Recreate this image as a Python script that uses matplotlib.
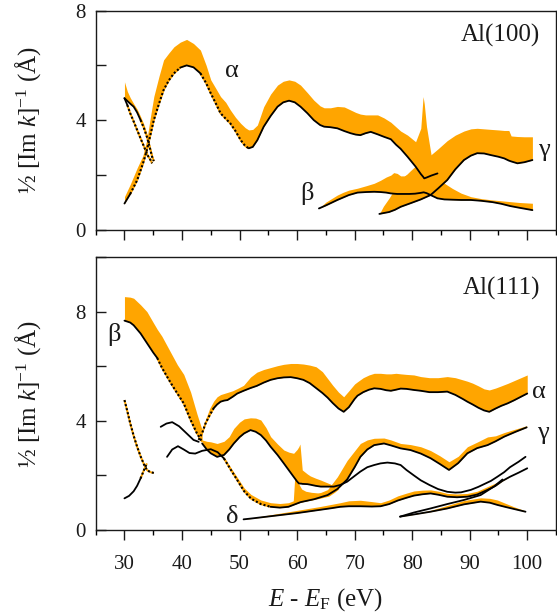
import numpy as np
import matplotlib
matplotlib.use("Agg")
import matplotlib.pyplot as plt
from matplotlib.ticker import MultipleLocator

plt.rcParams['font.family'] = ['Liberation Serif', 'DejaVu Serif']
plt.rcParams['mathtext.fontset'] = 'custom'
plt.rcParams['mathtext.rm'] = 'Liberation Serif'
plt.rcParams['mathtext.it'] = 'Liberation Serif:italic'

ORANGE = '#FFA500'
TXT = '#1a1a1a'

# ---------------- Al(100) ----------------
a100_x = [30, 31, 32.2, 33.2, 33.9, 34.5, 35.1, 36, 36.8, 37.7, 38.6, 39.7, 40.8, 42, 43.2, 44.2, 45, 45.9,
          46.7, 47.6, 48.4, 49.3, 50.2, 51, 51.6, 52.3, 53.1, 54.2, 55.4, 56.6, 57.6, 58.6, 59.6, 60.6, 61.8,
          62.9, 64, 64.7, 65.8, 67, 68.2, 69.3, 70.2, 71, 71.9, 72.8, 74, 75.1, 76.3, 77.2, 78, 79.2, 80.6,
          81.5, 81.9, 82.1, 82.5, 83.3, 84.4]
a100_lo = [0.95, 1.3, 1.8, 2.4, 2.9, 3.45, 4.0, 4.6, 5.1, 5.45, 5.71, 5.92, 6.0, 5.93, 5.71, 5.35, 4.98, 4.6,
           4.25, 4.05, 3.88, 3.6, 3.27, 3.05, 2.97, 3.02, 3.27, 3.76, 4.15, 4.49, 4.65, 4.71, 4.65, 4.49, 4.25,
           4.0, 3.82, 3.76, 3.74, 3.7, 3.6, 3.52, 3.47, 3.45, 3.52, 3.57, 3.48, 3.39, 3.3, 3.1, 2.95, 2.66, 2.3,
           2.03, 1.93, 1.87, 1.9, 1.97, 2.05]
a100_hi = [1.2, 1.65, 2.25, 2.7, 3.3, 4.1, 4.86, 5.6, 6.2, 6.45, 6.68, 6.85, 6.95, 6.8, 6.56, 6.0, 5.47, 5.15,
           4.86, 4.65, 4.37, 4.1, 3.88, 3.72, 3.64, 3.66, 3.82, 4.49, 4.95, 5.28, 5.42, 5.47, 5.42, 5.28, 5.0,
           4.73, 4.52, 4.45, 4.45, 4.5, 4.48, 4.37, 4.28, 4.22, 4.19, 4.19, 4.19, 4.08, 3.92, 3.75, 3.6, 3.45,
           3.21, 3.7, 4.86, 4.6, 3.76, 2.72, 2.6]

cb100_x = [30, 30.5, 31, 31.6, 32.2, 32.8, 33.4, 33.9, 34.4, 34.8, 35.1]
cb100_lo = [4.8, 4.7, 4.6, 4.49, 4.28, 4.0, 3.7, 3.39, 3.0, 2.66, 2.5]
cb100_hi = [5.4, 5.05, 4.82, 4.6, 4.4, 4.13, 3.83, 3.5, 3.1, 2.78, 2.55]

ca100_x = [30, 30.5, 31, 31.6, 32.2, 32.8, 33.4, 34, 34.5, 34.8]
ca100_y = [4.8, 4.55, 4.25, 3.95, 3.64, 3.33, 3.03, 2.72, 2.55, 2.42]

b100_x = [63.8, 65, 66, 67, 68, 69, 70.5, 72, 73.4, 74.5, 75.5, 76.3, 76.8, 77.4, 78, 78.6, 79.5, 80.5,
          81.5, 82, 82.5, 83.3, 84.4, 85.6, 87, 88.5, 90.2, 92, 94, 95.5, 97, 98.5, 100.9]
b100_lo = [0.77, 0.88, 0.98, 1.08, 1.17, 1.26, 1.35, 1.37, 1.38, 1.37, 1.35, 1.32, 1.31, 1.3, 1.3, 1.3, 1.3,
           1.31, 1.34, 1.36, 1.33, 1.25, 1.14, 1.1, 1.09, 1.08, 1.08, 1.05, 1.0, 0.94, 0.86, 0.8, 0.71]
b100_hi = [0.77, 1.0, 1.13, 1.26, 1.36, 1.44, 1.51, 1.6, 1.69, 1.8, 1.92, 1.99, 2.08, 2.05, 1.96, 1.96, 2.05,
           2.18, 2.3, 2.3, 2.2, 2.0, 1.8, 1.69, 1.5, 1.33, 1.2, 1.13, 1.08, 1.05, 1.02, 0.99, 0.96]

g100_x = [74.3, 75, 76, 77, 78, 79.7, 81.5, 83.2, 84.5, 86.1, 87.5, 89, 90.2, 91.3, 92.5, 93.7, 95, 96,
          96.8, 97.2, 98.3, 99.5, 100.9]
g100_lo = [0.57, 0.6, 0.64, 0.72, 0.83, 0.96, 1.1, 1.26, 1.5, 1.81, 2.2, 2.54, 2.7, 2.79, 2.78, 2.72, 2.66,
           2.6, 2.52, 2.49, 2.42, 2.46, 2.54]
g100_hi = [0.57, 0.85, 1.15, 1.5, 1.8, 2.15, 2.5, 2.72, 2.95, 3.25, 3.45, 3.6, 3.68, 3.7, 3.68, 3.66, 3.64,
           3.62, 3.62, 3.42, 3.4, 3.39, 3.39]

# ---------------- Al(111) ----------------
b111_x = [30, 31, 31.6, 32.8, 33.9, 35, 35.7, 36.5, 37.4, 38.3, 39.2, 40.3, 41.5, 42.6, 43.5]
b111_lo = [7.67, 7.6, 7.5, 7.2, 6.85, 6.5, 6.3, 5.95, 5.62, 5.3, 5.0, 4.64, 4.03, 3.54, 3.23]
b111_hi = [8.55, 8.53, 8.49, 8.25, 8.0, 7.6, 7.35, 7.1, 6.75, 6.4, 6.05, 5.7, 5.05, 4.25, 3.66]

a111_x = [42.9, 43.5, 44.1, 44.8, 45.5, 46.1, 46.7, 47.3, 47.9, 48.8, 49.6, 50.7, 51.9, 53, 54.2, 55.4,
          56.6, 57.7, 58.9, 60, 61.1, 62.2, 63.3, 64.4, 65.3, 66.2, 67.2, 68.1, 69, 70, 70.5, 71.5, 72.5,
          73.4, 74.5, 75.5, 76.3, 77.2, 78, 79, 80.3, 81.5, 83, 84.5, 86.1, 87.5, 88.8, 89.6, 90.5, 91.5,
          92.5, 93.4, 94.5, 95.5, 96.6, 97.7, 98.8, 100]
a111_lo = [3.3, 3.55, 3.91, 4.2, 4.46, 4.6, 4.7, 4.74, 4.76, 4.88, 5.0, 5.1, 5.2, 5.28, 5.4, 5.5, 5.56,
           5.59, 5.6, 5.56, 5.5, 5.38, 5.2, 5.02, 4.85, 4.65, 4.45, 4.33, 4.5, 4.8, 4.92, 5.05, 5.14, 5.19,
           5.17, 5.12, 5.1, 5.14, 5.18, 5.17, 5.13, 5.1, 5.05, 5.05, 5.07, 4.95, 4.8, 4.7, 4.6, 4.48, 4.38,
           4.33, 4.45, 4.55, 4.64, 4.75, 4.87, 5.0]
a111_hi = [3.35, 3.6, 4.05, 4.45, 4.72, 4.88, 4.96, 5.0, 5.04, 5.1, 5.18, 5.3, 5.6, 5.78, 5.88, 5.95,
           6.02, 6.07, 6.1, 6.1, 6.08, 6.04, 5.98, 5.8, 5.55, 5.3, 5.05, 4.88, 5.1, 5.35, 5.43, 5.58, 5.68,
           5.74, 5.74, 5.72, 5.72, 5.74, 5.72, 5.7, 5.68, 5.62, 5.58, 5.58, 5.62, 5.58, 5.5, 5.45, 5.38,
           5.28, 5.17, 5.13, 5.2, 5.28, 5.37, 5.47, 5.57, 5.68]

w1_x = [36.3, 37.3, 38.3, 39.5, 40.9, 42, 42.9]
w1_y = [3.78, 3.9, 3.95, 3.8, 3.52, 3.3, 3.23]

g111_x = [37.4, 38.3, 39.3, 40.3, 41.3, 42.3, 43.5, 45, 46.2, 47.3, 48.5, 49.6, 50.8, 52, 53.7, 55.4, 57,
          58.5, 60.6, 63, 65.3, 67, 68.7, 70, 71, 72.2, 73.4, 75.1, 76.3, 78, 79.7, 81.5, 83.2, 84.8, 86.4,
          88, 89.6, 91.3, 93.1, 94.5, 96, 98, 99.9]
g111_lo = [2.68, 2.95, 3.07, 2.95, 2.82, 2.8, 2.9, 2.96, 2.85, 2.62, 2.2, 1.83, 1.42, 1.15, 0.95, 0.85,
           0.82, 0.85, 1.02, 1.13, 1.28, 1.5, 1.85, 2.3, 2.68, 2.95, 3.11, 3.17, 3.1, 2.99, 2.93, 2.8, 2.63,
           2.42, 2.2, 2.45, 2.81, 3.0, 3.11, 3.25, 3.42, 3.6, 3.76]
g111_hi = [2.68, 2.95, 3.07, 2.95, 2.82, 2.8, 2.9, 2.96, 2.87, 2.67, 2.28, 1.93, 1.54, 1.3, 1.1, 1.0,
           0.97, 1.0, 1.17, 1.28, 1.48, 1.95, 2.55, 2.9, 3.17, 3.3, 3.36, 3.37, 3.3, 3.17, 3.13, 3.05, 2.91,
           2.72, 2.5, 2.7, 3.05, 3.22, 3.41, 3.45, 3.57, 3.7, 3.82]

m111_x = [43.5, 44.3, 45, 46.1, 47.3, 48.2, 49, 50, 50.8, 51.9, 52.8, 53.7, 54.6, 55.4, 56.6, 57.7, 58.6,
          59.4, 60, 60.3, 60.5, 60.7, 60.9, 61.8, 62.3, 63.2, 64.1, 65.8, 66.4, 67.5, 68.7, 70, 71, 72.2,
          73.4, 74.5, 75.7, 77, 78, 79, 80.3, 81.5, 83, 84.5, 86.1, 87.5, 88.5, 90.2, 91.5, 92.5, 93.7,
          94.8, 96, 97, 98.5, 99.7]
m111_lo = [3.17, 2.95, 2.81, 2.68, 2.75, 2.95, 3.17, 3.4, 3.54, 3.66, 3.6, 3.48, 3.28, 3.05, 2.75, 2.44,
           2.18, 1.95, 1.78, 1.71, 1.7, 1.7, 1.69, 1.68, 1.66, 1.62, 1.59, 1.59, 1.59, 1.65, 1.77, 1.98,
           2.14, 2.3, 2.38, 2.44, 2.47, 2.44, 2.38, 2.2, 2.0, 1.82, 1.65, 1.5, 1.4, 1.37, 1.38, 1.47, 1.58,
           1.68, 1.8, 1.95, 2.12, 2.3, 2.5, 2.68]
m111_hi = [3.3, 3.25, 3.23, 3.17, 3.25, 3.42, 3.72, 3.95, 4.07, 4.11, 4.1, 4.03, 3.75, 3.42, 3.15, 2.93,
           2.85, 2.81, 2.95, 3.05, 3.15, 2.68, 2.2, 2.05, 1.98, 1.9, 1.83, 1.68, 1.59, 1.65, 1.77, 1.98,
           2.14, 2.3, 2.38, 2.44, 2.47, 2.44, 2.38, 2.2, 2.0, 1.82, 1.65, 1.5, 1.4, 1.37, 1.38, 1.47, 1.58,
           1.68, 1.8, 1.95, 2.12, 2.3, 2.5, 2.68]

tail_x = [59.3, 59.6, 60.2, 60.8, 61.5, 62.5, 63.5, 64.5, 65.5, 66.5, 67.2]
tail_lo = [0.93, 0.95, 0.99, 1.03, 1.06, 1.1, 1.14, 1.19, 1.24, 1.38, 1.5]
tail_hi = [0.93, 1.95, 1.72, 1.5, 1.42, 1.38, 1.36, 1.36, 1.38, 1.5, 1.55]

d111_x = [50.7, 52, 54, 56, 58, 60, 62, 64, 66, 67.5, 69, 71, 73, 74.5, 76, 77.5, 79, 80.3, 81.8, 83.2,
          84.6, 86.1, 87.8, 89.6, 91.3, 93.1, 94.5, 95.7, 97, 98.5, 100]
d111_lo = [0.39, 0.42, 0.47, 0.52, 0.57, 0.62, 0.68, 0.74, 0.8, 0.85, 0.87, 0.87, 0.86, 0.87, 0.95, 1.08,
           1.18, 1.26, 1.31, 1.34, 1.29, 1.22, 1.2, 1.22, 1.3, 1.47, 1.62, 1.8, 1.95, 2.1, 2.26]
d111_hi = [0.39, 0.44, 0.51, 0.58, 0.65, 0.72, 0.79, 0.86, 0.94, 1.0, 1.07, 1.09, 1.04, 1.0, 1.1, 1.25,
           1.35, 1.43, 1.46, 1.47, 1.42, 1.34, 1.32, 1.34, 1.42, 1.59, 1.72, 1.85, 1.95, 2.1, 2.26]

l1_x = [77.9, 80.3, 83.2, 86.1, 89, 91.9, 94.2, 95.7]
l1_y = [0.49, 0.64, 0.79, 0.95, 1.1, 1.28, 1.59, 1.85]

l3_x = [77.9, 80.3, 83.2, 86.1, 89, 91.9, 93.5, 94.8, 96.3, 97.7, 99.7]
l3_lo = [0.49, 0.57, 0.67, 0.79, 0.94, 1.04, 1.0, 0.92, 0.84, 0.77, 0.67]
l3_hi = [0.49, 0.6, 0.72, 0.9, 1.08, 1.18, 1.16, 1.1, 0.97, 0.85, 0.7]

dd1_x = [30, 30.5, 31, 31.6, 32.2, 32.8, 33.4, 33.9, 34.5, 35.1]
dd1_y = [4.76, 4.35, 3.91, 3.45, 3.05, 2.7, 2.4, 2.2, 2.12, 2.09]
dd2_x = [30, 30.8, 31.6, 32.2, 32.8, 33.4, 33.9]
dd2_y = [1.16, 1.25, 1.42, 1.62, 1.89, 2.2, 2.44]

x_major = [30, 40, 50, 60, 70, 80, 90, 100]


def band(ax, x, lo, hi):
    ax.fill_between(x, lo, hi, color=ORANGE, lw=0, zorder=1)


def curve(ax, x, y, dotted=()):
    x = np.asarray(x, float)
    y = np.asarray(y, float)
    m = np.zeros(len(x), bool)
    for a, b in dotted:
        m |= (x >= a) & (x <= b)
    i = 0
    n = len(x)
    while i < n:
        j = i
        while j + 1 < n and m[j + 1] == m[i]:
            j += 1
        k = min(j + 1, n - 1)
        xs, ys = x[i:k + 1], y[i:k + 1]
        if m[i]:
            ax.plot(xs, ys, color=ORANGE, lw=1.4, zorder=2, solid_capstyle='butt')
            ax.plot(xs, ys, color='black', lw=1.5, ls=(0, (1.0, 1.0)), zorder=3)
        else:
            ax.plot(xs, ys, color='black', lw=1.3, zorder=3, solid_capstyle='round')
        i = j + 1


fig = plt.figure(figsize=(5.57, 6.14), dpi=100)
ax1 = fig.add_axes([0.1718, 0.6262, 0.8264, 0.3564])
ax2 = fig.add_axes([0.1718, 0.1368, 0.8264, 0.4446])

# top panel
band(ax1, a100_x, a100_lo, a100_hi)
band(ax1, cb100_x, cb100_lo, cb100_hi)
band(ax1, b100_x, b100_lo, b100_hi)
band(ax1, g100_x, g100_lo, g100_hi)
curve(ax1, a100_x, a100_lo, dotted=[(31, 38.8), (43, 51.3)])
curve(ax1, cb100_x, cb100_lo, dotted=[(32.5, 36)])
curve(ax1, ca100_x, ca100_y, dotted=[(30.5, 36)])
curve(ax1, b100_x, b100_lo)
curve(ax1, g100_x, g100_lo)

# bottom panel
band(ax2, b111_x, b111_lo, b111_hi)
band(ax2, a111_x, a111_lo, a111_hi)
band(ax2, m111_x, m111_lo, m111_hi)
band(ax2, g111_x, g111_lo, g111_hi)
band(ax2, tail_x, tail_lo, tail_hi)
band(ax2, d111_x, d111_lo, d111_hi)
band(ax2, l3_x, l3_lo, l3_hi)
curve(ax2, b111_x, b111_lo, dotted=[(35.5, 44)])
curve(ax2, a111_x, a111_lo, dotted=[(42.8, 45)])
curve(ax2, w1_x, w1_y)
curve(ax2, g111_x, g111_lo, dotted=[(47, 54)])
curve(ax2, m111_x, m111_lo)
curve(ax2, d111_x, d111_lo)
curve(ax2, l1_x, l1_y)
curve(ax2, l3_x, l3_lo)
curve(ax2, dd1_x, dd1_y, dotted=[(30, 35.2)])
curve(ax2, dd2_x, dd2_y, dotted=[(32.4, 34)])

ylabel = r'½ [Im $k$]$^{-1}$ (Å)'
for ax, ymax in ((ax1, 8), (ax2, 10)):
    ax.set_xlim(25, 105)
    ax.set_ylim(0, ymax)
    ax.set_xticks(x_major)
    ax.xaxis.set_minor_locator(MultipleLocator(5))
    ax.set_yticks([0, 4, 8])
    ax.yaxis.set_minor_locator(MultipleLocator(2))
    ax.tick_params(axis='x', which='major', direction='out', length=7, width=1, pad=11,
                   labelsize=15, colors=TXT)
    ax.tick_params(axis='x', which='minor', direction='out', length=3.6, width=1)
    ax.tick_params(axis='y', which='both', direction='in', length=7, width=1, pad=7,
                   labelsize=15, colors=TXT)
    for s in ax.spines.values():
        s.set_linewidth(1.0)
        s.set_color(TXT)
    ax.set_ylabel(ylabel, fontsize=18, color=TXT)
    ax.yaxis.set_label_coords(-0.115, 0.5)

ax1.tick_params(axis='x', labelbottom=False)
ax2.set_xlabel(r'$E$ - $E_{\rm F}$ (eV)', fontsize=18, color=TXT, labelpad=9)

tk = dict(fontsize=19, color=TXT, ha='center', va='center')
ax1.text(48.7, 5.81, 'α', **tk)
ax1.text(61.8, 1.3, 'β', **tk)
ax1.text(102.9, 2.9, 'γ', **tk)
ax1.text(102.3, 7.08, 'Al(100)', fontsize=18, color=TXT, ha='right', va='center')

ax2.text(28.2, 7.18, 'β', **tk)
ax2.text(102.0, 5.07, 'α', **tk)
ax2.text(102.8, 3.55, 'γ', **tk)
ax2.text(48.8, 0.49, 'δ', **tk)
ax2.text(102.2, 8.85, 'Al(111)', fontsize=18, color=TXT, ha='right', va='center')

fig.savefig('out.png', dpi=100)
